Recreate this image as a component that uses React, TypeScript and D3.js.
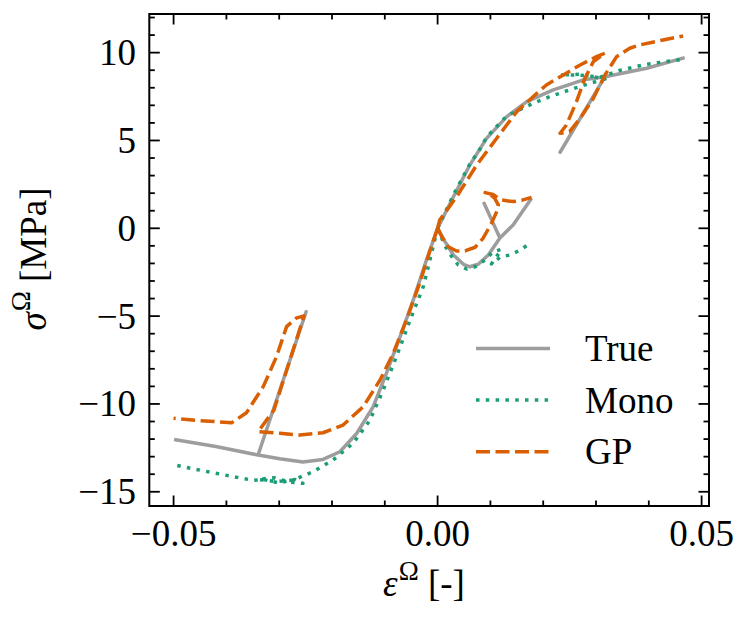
import * as d3 from "d3";
import React, { useEffect, useRef } from "react";

type Pt = [number, number];

// strain eps [-] vs stress sigma [MPa]
// each array is one loading path starting at the origin

const trueCompression: Pt[] = [
  [0, 0], [-0.0021, -1.8], [-0.0046, -4.08], [-0.0071, -6.17], [-0.0097, -8.26],
  [-0.0122, -10.16], [-0.0153, -11.67], [-0.0185, -12.72], [-0.0217, -13.16],
  [-0.0255, -13.3], [-0.0299, -13.12], [-0.034, -12.91],
  [-0.0249, -4.75],
  [-0.034, -12.91], [-0.042, -12.42], [-0.0499, -12.02],
];

const trueTension: Pt[] = [
  [0, 0], [0.003, 1.8], [0.0061, 3.6], [0.0093, 5.13], [0.0131, 6.36],
  [0.0169, 7.21], [0.0219, 7.88], [0.0238, 8.07], [0.0276, 8.45], [0.0317, 8.63],
  [0.0232, 4.33],
  [0.0317, 8.63], [0.0396, 9.11], [0.0468, 9.72],
];

const trueCycle: Pt[] = [
  [0, 0], [0.0014, -0.76], [0.003, -1.52], [0.0049, -2.05], [0.0061, -2.19],
  [0.0077, -2.05], [0.0096, -1.52], [0.0118, -0.55],
  [0.0088, 1.42],
  [0.0118, -0.55], [0.0143, 0.19], [0.0178, 1.71],
];

const monoCompression: Pt[] = [
  [0, 0], [-0.0027, -3.32], [-0.0052, -5.22], [-0.0078, -7.31], [-0.0103, -9.2],
  [-0.0128, -10.92], [-0.016, -12.24], [-0.0198, -13.19], [-0.0236, -13.86],
  [-0.0273, -14.33], [-0.0305, -14.42], [-0.034, -14.3],
  [-0.031, -14.2], [-0.028, -14.45], [-0.0255, -14.52],
  [-0.027, -14.3], [-0.03, -14.5], [-0.033, -14.3], [-0.0349, -14.35],
  [-0.0387, -14.14], [-0.045, -13.77], [-0.0497, -13.48],
];

const monoTension: Pt[] = [
  [0, 0], [0.003, 1.9], [0.0061, 3.65], [0.008, 4.5], [0.0093, 5.2],
  [0.0131, 6.4], [0.0181, 7.12], [0.0213, 7.5], [0.025, 7.88], [0.0289, 8.26],
  [0.0317, 8.5],
  [0.027, 8.77], [0.0232, 8.73],
  [0.027, 8.72], [0.0308, 8.6], [0.0346, 9.0], [0.0396, 9.34], [0.0459, 9.6],
  [0.0468, 9.68],
];

const monoCycle: Pt[] = [
  [0, 0], [0.0014, -1.0], [0.0027, -1.62], [0.0039, -2.09], [0.0055, -2.32],
  [0.0071, -2.19], [0.009, -1.8], [0.0105, -1.33], [0.0121, -1.2],
  [0.0102, -2.03],
  [0.0118, -1.65], [0.0137, -1.52], [0.0153, -1.29], [0.0171, -0.95],
];

const gpCompression: Pt[] = [
  [0, 0], [-0.0015, -1.33], [-0.0034, -3.13], [-0.0059, -5.22], [-0.0084, -7.12],
  [-0.0109, -8.64], [-0.0141, -10.16], [-0.0179, -11.2], [-0.0217, -11.64],
  [-0.0261, -11.77], [-0.0299, -11.67], [-0.034, -11.58],
  [-0.031, -10.35], [-0.0253, -4.99],
  [-0.0267, -5.1], [-0.0286, -5.6], [-0.0305, -7.3], [-0.033, -9.0],
  [-0.0362, -10.5], [-0.039, -11.07], [-0.045, -10.95], [-0.05, -10.82],
];

const gpTension: Pt[] = [
  [0, 0], [0.0004, 0.47], [0.0036, 1.8], [0.0074, 3.6], [0.0112, 5.13],
  [0.015, 6.64], [0.0188, 7.69], [0.0206, 8.16], [0.0238, 8.73], [0.027, 9.3],
  [0.0301, 9.77], [0.0317, 9.97],
  [0.0295, 9.49], [0.0279, 8.54], [0.0263, 7.21], [0.0244, 5.88], [0.0232, 5.41],
  [0.025, 5.5], [0.027, 6.26], [0.0295, 7.4], [0.0317, 8.73], [0.0339, 9.77],
  [0.0364, 10.25], [0.0383, 10.44], [0.0427, 10.72], [0.0465, 10.95],
];

const gpCycle: Pt[] = [
  [0, 0], [0.0008, -0.48], [0.002, -1.05], [0.0036, -1.29], [0.0052, -1.29],
  [0.0071, -1.08], [0.0086, -0.57], [0.0102, 0.28], [0.0112, 0.95], [0.0115, 1.33],
  [0.0108, 1.71], [0.0099, 1.95], [0.009, 2.03],
  [0.0105, 1.92], [0.0121, 1.61], [0.0143, 1.52], [0.016, 1.6], [0.0178, 1.76],
];

const xTicks = [-0.05, 0, 0.05];
const yTicks = [-15, -10, -5, 0, 5, 10];
const legendLabels = ["True", "Mono", "GP"];

const WIDTH = 749;
const HEIGHT = 622;
const FONT = "'Liberation Serif', 'Times New Roman', serif";

const series = [
  { name: "True", color: "#9d9d9d", dash: "none", paths: [trueCompression, trueTension, trueCycle] },
  { name: "Mono", color: "#1b9e77", dash: "3.5,6.3", paths: [monoCompression, monoTension, monoCycle] },
  { name: "GP", color: "#d95f02", dash: "14,5.5", paths: [gpCompression, gpTension, gpCycle] },
];

const fmtX = (v: number) => (v < 0 ? "\u2212" : "") + Math.abs(v).toFixed(2);
const fmtY = (v: number) => (v < 0 ? "\u2212" : "") + Math.abs(v);

function StressStrainChart() {
  const ref = useRef<SVGSVGElement>(null);

  useEffect(() => {
    const svg = d3.select(ref.current);
    svg.selectAll("*").remove();

    const x = d3.scaleLinear().domain([-0.0546, 0.0514]).range([149.3, 709]);
    const y = d3.scaleLinear().domain([-15.81, 12.2]).range([506, 14]);
    const [x0, x1] = x.range();
    const [y0, y1] = y.range();

    const line = d3.line<Pt>()
      .x(d => x(d[0]))
      .y(d => y(d[1]));

    // curves
    series.forEach(s => {
      s.paths.forEach(p => {
        svg.append("path")
          .attr("d", line(p))
          .attr("fill", "none")
          .attr("stroke", s.color)
          .attr("stroke-width", 3.5)
          .attr("stroke-dasharray", s.dash)
          .attr("stroke-linejoin", "round");
      });
    });

    // ticks, inward on all four sides
    const xMinor = d3.range(-5, 6).map(i => i / 100).filter(v => !xTicks.some(t => Math.abs(t - v) < 1e-9));
    const yMinor = d3.range(-15, 13).filter(v => !yTicks.includes(v));
    const tickG = svg.append("g").attr("stroke", "#000").attr("stroke-width", 1.8);
    const xt = [...xTicks.map(v => ({ v, len: 10.5 })), ...xMinor.map(v => ({ v, len: 5.5 }))];
    const yt = [...yTicks.map(v => ({ v, len: 10.5 })), ...yMinor.map(v => ({ v, len: 5.5 }))];
    xt.forEach(t => {
      tickG.append("line").attr("x1", x(t.v)).attr("x2", x(t.v)).attr("y1", y0).attr("y2", y0 - t.len);
      tickG.append("line").attr("x1", x(t.v)).attr("x2", x(t.v)).attr("y1", y1).attr("y2", y1 + t.len);
    });
    yt.forEach(t => {
      tickG.append("line").attr("y1", y(t.v)).attr("y2", y(t.v)).attr("x1", x0).attr("x2", x0 + t.len);
      tickG.append("line").attr("y1", y(t.v)).attr("y2", y(t.v)).attr("x1", x1).attr("x2", x1 - t.len);
    });

    // frame
    svg.append("rect")
      .attr("x", x0).attr("y", y1)
      .attr("width", x1 - x0).attr("height", y0 - y1)
      .attr("fill", "none").attr("stroke", "#000").attr("stroke-width", 2);

    // tick labels
    svg.append("g").selectAll("text")
      .data(xTicks).enter().append("text")
      .attr("x", d => x(d)).attr("y", 545.5)
      .attr("text-anchor", "middle")
      .attr("font-family", FONT).attr("font-size", 37)
      .text(d => fmtX(d));

    svg.append("g").selectAll("text")
      .data(yTicks).enter().append("text")
      .attr("x", 136).attr("y", d => y(d) + 12.5)
      .attr("text-anchor", "end")
      .attr("font-family", FONT).attr("font-size", 37)
      .text(d => fmtY(d));

    // axis labels
    const xl = svg.append("text")
      .attr("x", 424).attr("y", 596)
      .attr("text-anchor", "middle")
      .attr("font-family", FONT).attr("font-size", 37);
    xl.append("tspan").attr("font-style", "italic").text("\u03b5");
    xl.append("tspan").attr("dx", 1).attr("dy", -16).attr("font-size", 27).text("\u03a9");
    xl.append("tspan").attr("dy", 16).text(" [-]");

    const yl = svg.append("text")
      .attr("transform", "translate(46,259) rotate(-90)")
      .attr("text-anchor", "middle")
      .attr("font-family", FONT).attr("font-size", 37);
    yl.append("tspan").attr("font-style", "italic").text("\u03c3");
    yl.append("tspan").attr("dx", 1).attr("dy", -16).attr("font-size", 27).text("\u03a9");
    yl.append("tspan").attr("dy", 16).text(" [MPa]");

    // legend
    const legendY = [348.5, 400, 451.7];
    series.forEach((s, i) => {
      svg.append("line")
        .attr("x1", 476).attr("x2", 550)
        .attr("y1", legendY[i]).attr("y2", legendY[i])
        .attr("stroke", s.color).attr("stroke-width", 3.5)
        .attr("stroke-dasharray", s.dash);
      svg.append("text")
        .attr("x", 585).attr("y", legendY[i] + 12.5)
        .attr("font-family", FONT).attr("font-size", 37)
        .text(legendLabels[i]);
    });
  }, []);

  return (
    <svg
      ref={ref}
      width={WIDTH}
      height={HEIGHT}
      style={{ position: "absolute", left: 0, top: 0, background: "#fff" }}
    />
  );
}

export default function App() {
  return <StressStrainChart />;
}
